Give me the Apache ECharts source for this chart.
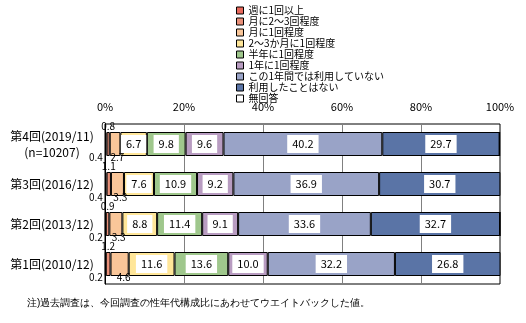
<!DOCTYPE html>
<html><head><meta charset="utf-8">
<script src="https://cdn.jsdelivr.net/npm/echarts@6/dist/echarts.min.js"></script>
<style>html,body{margin:0;padding:0;background:#fff}#c{width:526px;height:323px}</style>
</head><body><div id="c"></div>
<script>
const categories = ['第4回(2019/11)\n(n=10207)', '第3回(2016/12)', '第2回(2013/12)', '第1回(2010/12)'];
const seriesNames = ['週に1回以上','月に2～3回程度','月に1回程度','2～3か月に1回程度','半年に1回程度','1年に1回程度','この1年間では利用していない','利用したことはない','無回答'];
const weekly     = [0.4, 0.4, 0.2, 0.2];
const month23    = [0.8, 1.1, 0.9, 1.2];
const month1     = [2.7, 3.3, 3.3, 4.6];
const months23   = [6.7, 7.6, 8.8, 11.6];
const halfYear   = [9.8, 10.9, 11.4, 13.6];
const yearly     = [9.6, 9.2, 9.1, 10.0];
const notThisYear= [40.2, 36.9, 33.6, 32.2];
const never      = [29.7, 30.7, 32.7, 26.8];
const noAnswer   = [0, 0, 0, 0];
const xTicks = [0, 20, 40, 60, 80, 100];
const footnote = '注)過去調査は、今回調査の性年代構成比にあわせてウエイトバックした値。';

const colors = ['#e8695c','#e99079','#f9c699','#ffe699','#9fc78c','#b89cc1','#99a3c7','#5a74a6','#ffffff'];
const values = [weekly, month23, month1, months23, halfYear, yearly, notThisYear, never, noAnswer];
const FONT = '"Noto Sans CJK JP", sans-serif';

function labelFor(i) {
  const base = {show: true, color: '#000', fontSize: 10, fontFamily: FONT, formatter: p => p.value.toFixed(1)};
  if (i === 0) return Object.assign(base, {position: [-16, 20], align: 'left', verticalAlign: 'top'});
  if (i === 1) return Object.assign(base, {position: ['50%', -11], align: 'center', verticalAlign: 'top'});
  if (i === 2) return Object.assign(base, {position: ['72%', 20], align: 'center', verticalAlign: 'top'});
  if (i === 8) return {show: false};
  return Object.assign(base, {position: 'inside', backgroundColor: '#fff', padding: [4, 5, 3, 5], fontSize: 11});
}

const series = seriesNames.map((n, i) => ({
  name: n, type: 'bar', stack: 'all', barWidth: 24,
  data: values[i],
  itemStyle: {color: colors[i], borderColor: '#000', borderWidth: 1},
  label: labelFor(i),
  emphasis: {disabled: true},
  z: 3
}));

const chart = echarts.init(document.getElementById('c'), null, {renderer: 'canvas'});
chart.setOption({
  animation: false,
  color: colors,
  textStyle: {fontFamily: FONT},
  grid: {left: 105, right: 26, top: 124, bottom: 39, show: true, borderColor: '#000', borderWidth: 1, backgroundColor: 'transparent'},
  legend: {
    orient: 'vertical', left: 231, top: 0, itemGap: 0, itemWidth: 7, itemHeight: 7, icon: 'rect',
    data: seriesNames,
    itemStyle: {borderColor: '#000', borderWidth: 1},
    textStyle: {fontSize: 10, lineHeight: 11, fontFamily: FONT, color: '#000'},
    selectedMode: false
  },
  xAxis: {
    type: 'value', position: 'top', min: xTicks[0], max: xTicks[xTicks.length - 1], interval: 20,
    axisLine: {show: false}, axisTick: {show: false},
    axisLabel: {formatter: '{value}%', fontSize: 11, color: '#000', margin: 12, fontFamily: FONT},
    splitLine: {show: true, lineStyle: {color: '#808080', width: 1}}
  },
  yAxis: {
    type: 'category', inverse: true, data: categories,
    axisLine: {show: true, lineStyle: {color: '#000'}}, axisTick: {show: false},
    axisLabel: {fontSize: 12, color: '#000', align: 'center', margin: 53, lineHeight: 16, fontFamily: FONT}
  },
  graphic: [{type: 'text', left: 27, top: 298, style: {text: footnote, fontSize: 10, fill: '#000', font: '10px ' + FONT}}],
  series: series
});
</script></body></html>
